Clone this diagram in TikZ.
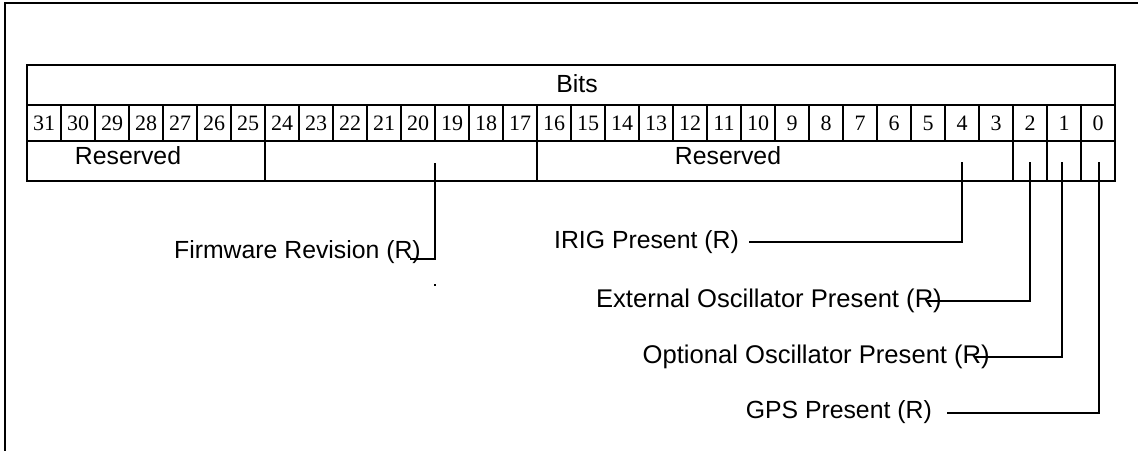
\documentclass[tikz,border=0pt]{standalone}
\usepackage{fontspec}
\setmainfont{Liberation Serif}
\setsansfont{Liberation Sans}
\usetikzlibrary{arrows}

\tikzset{
  numcell/.style={draw, line width=2pt, minimum width=34pt, minimum height=36pt, inner sep=0pt, font=\fontsize{22}{22}\selectfont},
  lbl/.style={anchor=base east, inner sep=0pt, font=\sffamily\fontsize{24.8}{28}\selectfont},
  lblwide/.style={lbl, font=\sffamily\fontsize{25.6}{28}\selectfont},
  lead/.style={line width=2pt}
}

\begin{document}
\begin{tikzpicture}[x=1pt,y=-1pt]
\useasboundingbox (0,0) rectangle (1138,451);
\draw [line width=2pt] (1138,3) -- (5,3) -- (5,451);

\draw [line width=2pt] (27,65) rectangle (1115,181);
\node [lbl, anchor=base] (bits) at (577,92) {Bits};

\foreach \i in {0,...,31}
{
\node [numcell] (b\i) at ({1098-34*\i},123) {\i};
}

\foreach \x in {265,537,1013,1047,1081}
\draw [line width=2pt] (\x,141) -- (\x,181);

\node [lbl, anchor=base] (res1) at (128,164) {Reserved};
\node [lbl, anchor=base] (res2) at (728,164) {Reserved};

\node [lbl] (fw) at (421,258) {Firmware Revision (R)};
\node [lbl] (irig) at (739,248) {IRIG Present (R)};
\node [lblwide] (extosc) at (942,307) {External Oscillator Present (R)};
\node [lblwide] (optosc) at (990,363) {Optional Oscillator Present (R)};
\node [lbl] (gps) at (932,418) {GPS Present (R)};

\coordinate (fwtop) at (435,163);
\coordinate (fwend) at (410,259);
\coordinate (irigtop) at (962,162);
\coordinate (irigend) at (749,242);
\coordinate (exttop) at (1030,162);
\coordinate (extend) at (927,301);
\coordinate (opttop) at (1062,162);
\coordinate (optend) at (975,357);
\coordinate (gpstop) at (1099,162);
\coordinate (gpsend) at (947,413);

\draw [lead] (fwtop) |- (fwend);
\draw [lead] (irigtop) |- (irigend);
\draw [lead] (exttop) |- (extend);
\draw [lead] (opttop) |- (optend);
\draw [lead] (gpstop) |- (gpsend);

\fill (434,284) rectangle (436,286);
\end{tikzpicture}
\end{document}
